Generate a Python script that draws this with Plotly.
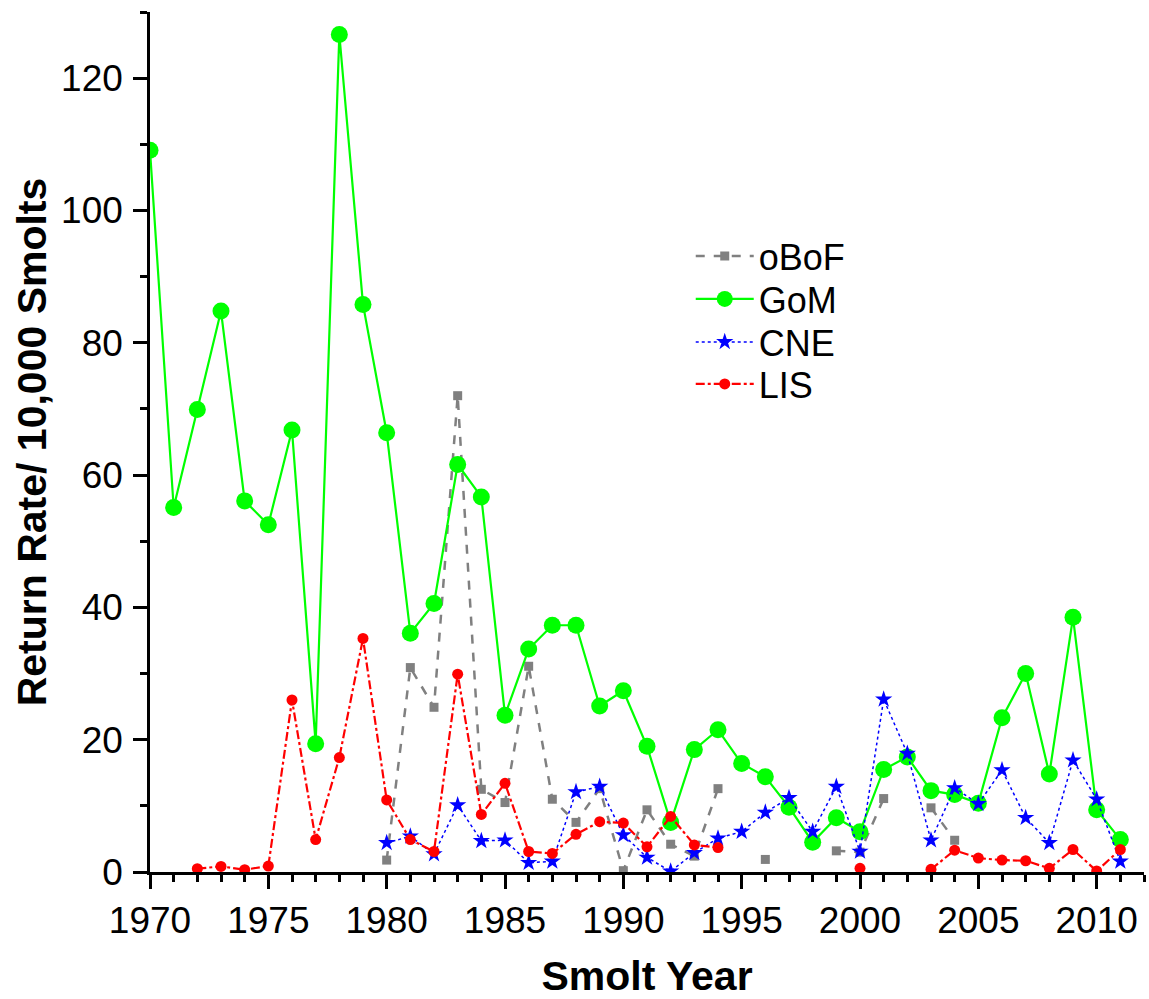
import plotly.graph_objects as go

years = list(range(1970, 2012))

# values per year 1970..2011 (None = no data)
gom = [109.1, 55.1, 69.9, 84.8, 56.1, 52.5, 66.8, 19.4, 126.6, 85.8,
       66.4, 36.1, 40.6, 61.6, 56.7, 23.7, 33.7, 37.3, 37.3, 25.1,
       27.4, 19.0, 7.5, 18.5, 21.5, 16.4, 14.4, 9.8, 4.5, 8.2,
       6.1, 15.5, 17.4, 12.3, 11.7, 10.4, 23.3, 30.0, 14.8, 38.5,
       9.4, 4.9]

oboF = [None] * 10 + [1.8, 30.9, 24.9, 72.0, 12.5, 10.5, 31.1, 11.0, 7.5, 12.6,
        0.2, 9.4, 4.2, 2.4, 12.6, None, 1.9, None, None, 3.2,
        3.0, 11.1, None, 9.7, 4.8, None, None, None, None, None,
        None, None]

cne = [None] * 10 + [4.4, 5.4, 2.7, 10.1, 4.7, 4.8, 1.4, 1.6, 12.1, 12.9,
       5.6, 2.2, 0.1, 2.9, 5.1, 6.1, 9.0, 11.2, 6.1, 12.9,
       3.1, 26.1, 17.9, 4.8, 12.7, 10.3, 15.4, 8.2, 4.4, 16.9,
       11.0, 1.6]

lis = [None, None, 0.5, 0.85, 0.35, 0.9, 26.0, 4.9, 17.3, 35.3,
       10.9, 4.9, 3.1, 29.9, 8.7, 13.4, 3.1, 2.8, 5.7, 7.6,
       7.4, 3.8, 8.4, 4.1, 3.7, None, None, None, None, None,
       0.55, None, None, 0.4, 3.3, 2.1, 1.8, 1.7, 0.55, 3.4,
       0.15, 3.4]

font_family = "Liberation Sans, Arial, sans-serif"

fig = go.Figure()
fig.add_trace(go.Scatter(x=years, y=oboF, name="oBoF", mode="lines+markers",
                         line=dict(color="#808080", width=2.5, dash="dash"),
                         marker=dict(symbol="square", size=9, color="#808080"),
                         connectgaps=False, legend="legend"))
fig.add_trace(go.Scatter(x=years, y=gom, name="GoM", mode="lines+markers",
                         line=dict(color="#00FF00", width=2.2),
                         marker=dict(symbol="circle", size=17, color="#00FF00"),
                         connectgaps=False, legend="legend2"))
fig.add_trace(go.Scatter(x=years, y=cne, name="CNE", mode="lines+markers",
                         line=dict(color="#0000FF", width=1.5, dash="dot"),
                         marker=dict(symbol="star", size=13, color="#0000FF"),
                         connectgaps=False, legend="legend3"))
fig.add_trace(go.Scatter(x=years, y=lis, name="LIS", mode="lines+markers",
                         line=dict(color="#FF0000", width=2.2, dash="dashdot"),
                         marker=dict(symbol="circle", size=11, color="#FF0000"),
                         connectgaps=False, legend="legend4"))


def leg(ypos):
    return dict(x=0.544, y=ypos, xanchor="left", yanchor="middle",
                bgcolor="rgba(0,0,0,0)", font=dict(size=36, family=font_family),
                itemwidth=58, borderwidth=0)


fig.update_layout(
    width=1149, height=999,
    margin=dict(l=150, r=5, t=12, b=127, autoexpand=False),
    paper_bgcolor="white", plot_bgcolor="white",
    font=dict(family=font_family, color="black", size=37),
    showlegend=True,
    legend=leg(0.7163),
    legend2=leg(0.6663),
    legend3=leg(0.6163),
    legend4=leg(0.5674),
    xaxis=dict(range=[1970, 2012], showgrid=False, zeroline=False,
               automargin=False,
               showline=True, linecolor="black", linewidth=2.5,
               ticks="outside", ticklen=14, tickwidth=2.5, tickcolor="black",
               tick0=1970, dtick=5,
               minor=dict(ticks="outside", ticklen=7, tickwidth=2.5,
                          tickcolor="black", dtick=1, showgrid=False),
               tickfont=dict(size=37),
               title=dict(text="<b>Smolt Year</b>", font=dict(size=41),
                          standoff=24)),
    yaxis=dict(range=[0, 130], showgrid=False, zeroline=False,
               automargin=False,
               showline=True, linecolor="black", linewidth=2.5,
               ticks="outside", ticklen=14, tickwidth=2.5, tickcolor="black",
               tick0=0, dtick=20, ticklabelstandoff=3,
               minor=dict(ticks="outside", ticklen=7, tickwidth=2.5,
                          tickcolor="black", dtick=10, showgrid=False),
               tickfont=dict(size=37),
               title=dict(text="<b>Return Rate/ 10,000 Smolts</b>",
                          font=dict(size=41), standoff=2)),
)

fig.write_html("out.html")
